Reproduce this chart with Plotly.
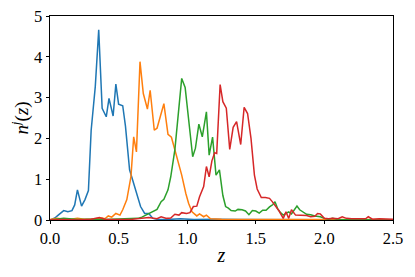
import plotly.graph_objects as go

# ---- data ----
z_blue = [0.0, 0.035, 0.06, 0.085, 0.10, 0.13, 0.16, 0.18, 0.20, 0.23, 0.255, 0.28, 0.30, 0.33, 0.355,
          0.38, 0.41, 0.43, 0.46, 0.48, 0.50, 0.53, 0.55, 0.58, 0.61, 0.63, 0.66, 0.69, 0.72, 0.75,
          0.78, 0.85, 0.95, 1.05, 1.2, 1.4, 1.6, 1.8, 2.0, 2.2, 2.4, 2.5]
n_blue = [0.0, 0.05, 0.12, 0.2, 0.23, 0.2, 0.23, 0.37, 0.74, 0.34, 0.5, 0.72, 2.2, 3.27, 4.66,
          2.74, 2.53, 2.98, 2.55, 3.33, 2.84, 2.8, 2.3, 1.23, 0.9, 0.65, 0.33, 0.16, 0.16, 0.04,
          0.02, 0.01, 0.03, 0.01, 0.02, 0.01, 0.01, 0.01, 0.01, 0.0, 0.01, 0.0]

z_orange = [0.0, 0.05, 0.1, 0.15, 0.2, 0.25, 0.3, 0.35, 0.38, 0.40, 0.425, 0.45, 0.48, 0.51, 0.53,
            0.56, 0.59, 0.61, 0.63, 0.656, 0.68, 0.71, 0.73, 0.76, 0.78, 0.805, 0.83, 0.86, 0.885,
            0.91, 0.93, 0.96, 0.99, 1.01, 1.035, 1.07, 1.09, 1.12, 1.14, 1.17, 1.25, 1.4, 1.6,
            1.8, 2.0, 2.2, 2.4, 2.5]
n_orange = [0.01, 0.04, 0.02, 0.02, 0.04, 0.02, 0.02, 0.03, 0.05, 0.03, 0.1, 0.07, 0.16, 0.12, 0.25,
            0.5, 1.06, 2.04, 1.67, 3.88, 3.1, 2.72, 3.18, 2.2, 2.25, 2.55, 2.85, 2.1, 2.03,
            1.72, 1.47, 1.1, 0.65, 0.41, 0.2, 0.1, 0.15, 0.08, 0.12, 0.03, 0.02, 0.02, 0.01,
            0.02, 0.01, 0.01, 0.01, 0.0]

z_green = [0.0, 0.1, 0.2, 0.3, 0.4, 0.5, 0.6, 0.64, 0.67, 0.70, 0.725, 0.75, 0.78, 0.81, 0.83,
           0.86, 0.88, 0.91, 0.935, 0.96, 0.985, 1.01, 1.04, 1.06, 1.085, 1.11, 1.14, 1.16, 1.185,
           1.21, 1.235, 1.26, 1.28, 1.30, 1.32, 1.35, 1.37, 1.40, 1.425, 1.45, 1.475, 1.50, 1.525,
           1.55, 1.575, 1.60, 1.625, 1.64, 1.66, 1.68, 1.70, 1.72, 1.74, 1.76, 1.78, 1.80, 1.82,
           1.84, 1.87, 1.90, 1.93, 1.97, 2.0, 2.03, 2.06, 2.1, 2.2, 2.3, 2.4, 2.5]
n_green = [0.0, 0.04, 0.01, 0.02, 0.01, 0.02, 0.02, 0.04, 0.07, 0.12, 0.17, 0.22, 0.26, 0.45, 0.51,
           0.74, 1.06, 1.72, 2.53, 3.47, 3.25, 2.45, 1.55, 1.76, 2.35, 2.04, 2.65, 1.59, 2.03,
           1.1, 1.23, 0.6, 0.33, 0.29, 0.23, 0.22, 0.26, 0.25, 0.22, 0.13, 0.23, 0.22, 0.17,
           0.24, 0.24, 0.32, 0.38, 0.45, 0.27, 0.18, 0.12, 0.16, 0.2, 0.15, 0.25, 0.34, 0.25,
           0.2, 0.14, 0.13, 0.1, 0.08, 0.04, 0.02, 0.04, 0.01, 0.01, 0.0, 0.01, 0.0]

z_red = [0.0, 0.1, 0.2, 0.3, 0.36, 0.4, 0.5, 0.6, 0.72, 0.75, 0.78, 0.81, 0.85, 0.88, 0.91, 0.94,
         0.96, 0.995, 1.02, 1.045, 1.07, 1.09, 1.12, 1.14, 1.16, 1.18, 1.20, 1.215, 1.24, 1.26,
         1.285, 1.31, 1.335, 1.36, 1.39, 1.415, 1.44, 1.465, 1.49, 1.51, 1.54, 1.57, 1.60, 1.62,
         1.645, 1.67, 1.70, 1.72, 1.74, 1.76, 1.79, 1.82, 1.85, 1.87, 1.90, 1.93, 1.95, 1.97,
         2.0, 2.03, 2.06, 2.1, 2.13, 2.16, 2.2, 2.25, 2.3, 2.32, 2.35, 2.4, 2.45, 2.5]
n_red = [0.0, 0.01, 0.0, 0.02, 0.06, 0.02, 0.01, 0.02, 0.06, 0.04, 0.03, 0.08, 0.04, 0.05, 0.14, 0.12,
         0.18, 0.16, 0.18, 0.33, 0.34, 0.57, 0.82, 1.31, 1.06, 1.45, 1.65, 1.63, 3.32, 2.9,
         2.74, 1.73, 2.27, 2.41, 1.85, 2.76, 2.61, 2.0, 1.1, 0.76, 0.55, 0.55, 0.53, 0.45,
         0.33, 0.22, 0.04, 0.2, 0.04, 0.25, 0.12, 0.11, 0.11, 0.11, 0.08, 0.09, 0.16, 0.15,
         0.04, 0.03, 0.04, 0.03, 0.08, 0.04, 0.03, 0.03, 0.03, 0.08, 0.02, 0.03, 0.02, 0.02]

x_ticks = [0.0, 0.5, 1.0, 1.5, 2.0, 2.5]
y_ticks = [0, 1, 2, 3, 4, 5]

series = [
    (z_blue, n_blue, "#1f77b4"),
    (z_orange, n_orange, "#ff7f0e"),
    (z_green, n_green, "#2ca02c"),
    (z_red, n_red, "#d62728"),
]

fig = go.Figure()
for zs, ns, col in series:
    fig.add_trace(go.Scatter(x=zs, y=ns, mode="lines",
                             line=dict(color=col, width=1.5), showlegend=False))

font_family = "Liberation Serif"
axis_common = dict(
    showline=True, linecolor="black", linewidth=0.8, mirror=True,
    ticks="outside", ticklen=3.5, tickwidth=0.8, tickcolor="black",
    showgrid=False, zeroline=False, automargin=False,
    ticklabeloverflow="allow",
    tickfont=dict(family=font_family, size=16.5, color="black"),
)

# the page body has an 8px margin, so the figure is made 8px smaller and margins shifted
fig.update_layout(
    width=407, height=269,
    margin=dict(l=42, r=22, t=8, b=57),
    paper_bgcolor="white", plot_bgcolor="white",
    font=dict(family=font_family, color="black"),
    xaxis=dict(range=[0, 2.5], tickvals=x_ticks,
               ticktext=[f"{v:.1f}" for v in x_ticks],
               title=dict(text="<i>z</i>", font=dict(size=20, family=font_family), standoff=0),
               **axis_common),
    yaxis=dict(range=[0, 5], tickvals=y_ticks,
               ticktext=[str(v) for v in y_ticks],
               title=dict(text="<i>n</i><sup><i>j</i></sup>(<i>z</i>)",
                          font=dict(size=19, family=font_family), standoff=8),
               **axis_common),
)

fig.write_html("out.html")
